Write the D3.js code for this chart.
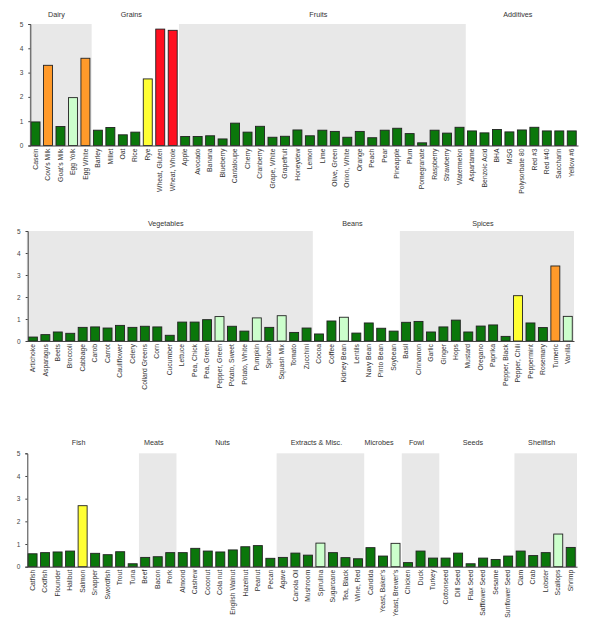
<!DOCTYPE html>
<html>
<head>
<meta charset="utf-8">
<script src="https://cdn.jsdelivr.net/npm/d3@7"></script>
<style>
  body { margin: 0; background: #fff; }
  svg { display: block; font-family: "Liberation Sans", Arial, sans-serif; }
</style>
</head>
<body>
<div id="chart"></div>
<script>
// panel 1
const foods1 = ["Casein", "Cow's Milk", "Goat's Milk", "Egg Yolk", "Egg White",
  "Barley", "Millet", "Oat", "Rice", "Rye", "Wheat, Gluten", "Wheat, Whole",
  "Apple", "Avocado", "Banana", "Blueberry", "Cantaloupe", "Cherry", "Cranberry", "Grape, White",
  "Grapefruit", "Honeydew", "Lemon", "Lime", "Olive, Green", "Onion, White", "Orange", "Peach",
  "Pear", "Pineapple", "Plum", "Pomegranate", "Raspberry", "Strawberry", "Watermelon",
  "Aspartame", "Benzoic Acid", "BHA", "MSG", "Polysorbate 80", "Red #3", "Red #40", "Saccharin", "Yellow #6"];
const values1 = [0.97, 3.30, 0.78, 1.97, 3.59,
  0.63, 0.74, 0.44, 0.55, 2.74, 4.79, 4.74,
  0.37, 0.37, 0.40, 0.27, 0.92, 0.55, 0.79, 0.34,
  0.38, 0.64, 0.40, 0.63, 0.58, 0.34, 0.58, 0.32,
  0.63, 0.71, 0.49, 0.11, 0.63, 0.51, 0.75,
  0.60, 0.52, 0.66, 0.56, 0.64, 0.75, 0.60, 0.60, 0.60];
const groups1 = ["Dairy", "Grains", "Fruits", "Additives"];
const groupSizes1 = [5, 7, 23, 9];

// panel 2
const foods2 = ["Artichoke", "Asparagus", "Beets", "Broccoli", "Cabbage", "Carob", "Carrot", "Cauliflower",
  "Celery", "Collard Greens", "Corn", "Cucumber", "Lettuce", "Pea, Chick", "Pea, Green", "Pepper, Green",
  "Potato, Sweet", "Potato, White", "Pumpkin", "Spinach", "Squash Mix", "Tomato", "Zucchini",
  "Cocoa", "Coffee", "Kidney Bean", "Lentils", "Navy Bean", "Pinto Bean", "Soybean",
  "Basil", "Cinnamon", "Garlic", "Ginger", "Hops", "Mustard", "Oregano", "Paprika",
  "Pepper, Black", "Pepper, Chili", "Peppermint", "Rosemary", "Tumeric", "Vanilla"];
const values2 = [0.18, 0.29, 0.41, 0.35, 0.62, 0.64, 0.59, 0.71,
  0.62, 0.67, 0.64, 0.26, 0.86, 0.86, 0.97, 1.11,
  0.67, 0.45, 1.05, 0.62, 1.15, 0.39, 0.59,
  0.32, 0.91, 1.08, 0.36, 0.82, 0.58, 0.45,
  0.85, 0.89, 0.41, 0.64, 0.95, 0.41, 0.68, 0.73,
  0.21, 2.06, 0.82, 0.61, 3.41, 1.12];
const groups2 = ["Vegetables", "Beans", "Spices"];
const groupSizes2 = [23, 7, 14];

// panel 3
const foods3 = ["Catfish", "Codfish", "Flounder", "Halibut", "Salmon", "Snapper", "Swordfish", "Trout", "Tuna",
  "Beef", "Bacon", "Pork",
  "Almond", "Cashew", "Coconut", "Cola nut", "English Walnut", "Hazelnut", "Peanut", "Pecan",
  "Agave", "Canola Oil", "Mushroom", "Spirulina", "Sugarcane", "Tea, Black", "Wine, Red",
  "Candida", "Yeast, Baker's", "Yeast, Brewer's",
  "Chicken", "Duck", "Turkey",
  "Cottonseed", "Dill Seed", "Flax Seed", "Safflower Seed", "Sesame", "Sunflower Seed",
  "Clam", "Crab", "Lobster", "Scallops", "Shrimp"];
const values3 = [0.57, 0.62, 0.65, 0.69, 2.69, 0.59, 0.53, 0.66, 0.13,
  0.41, 0.44, 0.62,
  0.62, 0.81, 0.69, 0.65, 0.74, 0.88, 0.93, 0.37,
  0.41, 0.60, 0.51, 1.04, 0.62, 0.40, 0.35,
  0.84, 0.47, 1.03,
  0.18, 0.69, 0.38,
  0.38, 0.60, 0.13, 0.38, 0.32, 0.47,
  0.69, 0.49, 0.62, 1.44, 0.85];
const groups3 = ["Fish", "Meats", "Nuts", "Extracts & Misc.", "Microbes", "Fowl", "Seeds", "Shellfish"];
const groupSizes3 = [9, 3, 8, 7, 3, 3, 6, 5];

const yTicks = [0, 1, 2, 3, 4, 5];
const colorBreaks = [1, 2, 3, 4];
const colorSteps = ["#0b770b", "#ccffcc", "#ffff33", "#ff9a2a", "#ff1020"];

const width = 594;
const height = 626;

const svg = d3.select("#chart")
  .append("svg")
  .attr("width", width)
  .attr("height", height)
  .attr("viewBox", [0, 0, width, height]);

const color = d3.scaleThreshold().domain(colorBreaks).range(colorSteps);

const panels = [
  { foods: foods1, values: values1, groups: groups1, sizes: groupSizes1,
    left: 29.3, right: 578, top: 24, bottom: 145.5, labelY: 17, shadeFirst: true },
  { foods: foods2, values: values2, groups: groups2, sizes: groupSizes2,
    left: 26.7, right: 574, top: 231, bottom: 341, labelY: 226, shadeFirst: true },
  { foods: foods3, values: values3, groups: groups3, sizes: groupSizes3,
    left: 26.3, right: 577, top: 453.3, bottom: 566.7, labelY: 445, shadeFirst: false },
];

panels.forEach(p => {
  const x = d3.scaleBand()
    .domain(p.foods)
    .range([p.left, p.right])
    .paddingInner(0.28)
    .paddingOuter(0.14);

  const y = d3.scaleLinear()
    .domain([0, 5])
    .range([p.bottom, p.top]);

  const step = x.step();
  const x0 = p.left;

  // group spans from cumulative sizes
  const starts = d3.cumsum([0, ...p.sizes]);
  const spans = p.groups.map((name, i) => ({
    name,
    i,
    a: starts[i],
    b: starts[i + 1],
  }));

  const g = svg.append("g");

  // alternating shaded backgrounds
  g.append("g")
    .selectAll("rect")
    .data(spans.filter(s => (s.i % 2 === 0) === p.shadeFirst))
    .join("rect")
    .attr("x", s => x0 + s.a * step)
    .attr("width", s => (s.b - s.a) * step)
    .attr("y", y(5))
    .attr("height", y(0) - y(5))
    .attr("fill", "#e8e8e8");

  // group labels
  g.append("g")
    .selectAll("text")
    .data(spans)
    .join("text")
    .attr("x", s => x0 + (s.a + s.b) / 2 * step - 4)
    .attr("y", p.labelY)
    .attr("text-anchor", "middle")
    .attr("font-size", 7.2)
    .attr("fill", "#333")
    .text(s => s.name);

  // bars
  g.append("g")
    .selectAll("rect")
    .data(p.foods.map((f, i) => ({ food: f, value: p.values[i] })))
    .join("rect")
    .attr("x", d => x(d.food))
    .attr("width", x.bandwidth())
    .attr("y", d => y(d.value))
    .attr("height", d => y(0) - y(d.value))
    .attr("fill", d => color(d.value))
    .attr("stroke", "#222")
    .attr("stroke-width", 0.9);

  // y axis
  const yAxis = g.append("g")
    .attr("transform", `translate(${p.left + 1},0)`)
    .call(d3.axisLeft(y).tickValues(yTicks).tickFormat(d3.format("d")).tickSize(2).tickPadding(5));
  yAxis.select(".domain").attr("stroke", "#444");
  yAxis.selectAll(".tick line").attr("stroke", "#444");
  yAxis.selectAll(".tick text").attr("font-size", 6.5).attr("fill", "#444")
    .attr("font-family", "inherit");

  // x axis
  const xAxis = g.append("g")
    .attr("transform", `translate(0,${y(0)})`)
    .call(d3.axisBottom(x).tickSize(0).tickPadding(3).tickSizeOuter(0));
  xAxis.select(".domain").attr("stroke", "#444");
  xAxis.selectAll(".tick text")
    .attr("font-size", 6.8)
    .attr("fill", "#333")
    .attr("font-family", "inherit")
    .attr("text-anchor", "end")
    .attr("dy", "0.32em")
    .attr("transform", "translate(0,3) rotate(-90)")
    .attr("x", 0)
    .attr("y", 0);
});
</script>
</body>
</html>
